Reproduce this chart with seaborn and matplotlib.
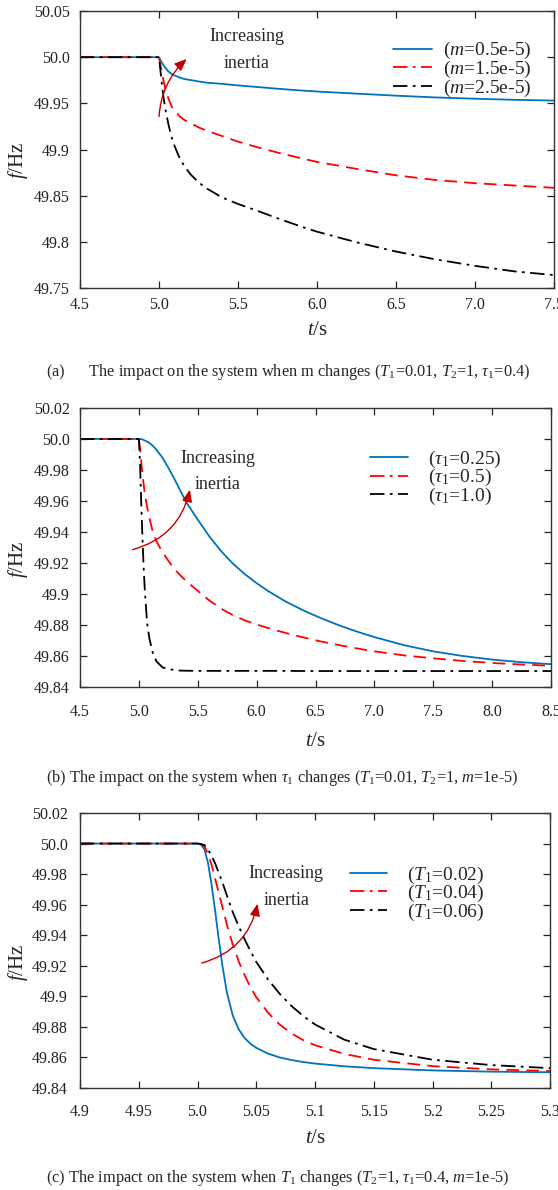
import matplotlib
matplotlib.use('Agg')
import matplotlib.pyplot as plt
from matplotlib.lines import Line2D
import seaborn as sns

# ──────────────── (a) m changes ────────────────
t_a = [4.5, 5.0, 5.01, 5.02, 5.03, 5.04, 5.06, 5.08, 5.1, 5.13, 5.16, 5.2, 5.25,
       5.3, 5.4, 5.5, 5.6, 5.75, 5.9, 6.0, 6.25, 6.5, 6.75, 7.0, 7.25, 7.5]
f_m05 = [50.0, 50.0, 49.9965, 49.9935, 49.9908, 49.9885, 49.9845, 49.9818, 49.9801,
         49.978, 49.9764, 49.9752, 49.9737, 49.9724, 49.9711, 49.9694, 49.968,
         49.9658, 49.9639, 49.9628, 49.9605, 49.9583, 49.9564, 49.955, 49.9538,
         49.953]
f_m15 = [50.0, 50.0, 49.9905, 49.982, 49.9735, 49.966, 49.955, 49.9464, 49.942,
         49.936, 49.932, 49.9285, 49.924, 49.9205, 49.9145, 49.9085, 49.9035,
         49.8967, 49.8905, 49.8866, 49.879, 49.872, 49.867, 49.8635, 49.861, 49.8585]
f_m25 = [50.0, 50.0, 49.984, 49.968, 49.955, 49.944, 49.927, 49.913, 49.903, 49.891,
         49.882, 49.873, 49.8645, 49.858, 49.848, 49.841, 49.835, 49.8255, 49.8165,
         49.811, 49.7995, 49.7895, 49.781, 49.774, 49.768, 49.764]

# ──────────────── (b) tau1 changes ────────────────
t_b = [4.5, 5.0, 5.01, 5.02, 5.03, 5.04, 5.05, 5.07, 5.09, 5.12, 5.15, 5.2, 5.25,
       5.3, 5.35, 5.4, 5.5, 5.6, 5.7, 5.8, 5.9, 6.0, 6.1, 6.25, 6.4, 6.55, 6.7,
       6.85, 7.0, 7.25, 7.5, 7.75, 8.0, 8.25, 8.5]
f_tau025 = [50.0, 50.0, 50.0, 49.9999, 49.9997, 49.9994, 49.999, 49.9983, 49.9975,
            49.9955, 49.993, 49.988, 49.9815, 49.9745, 49.967, 49.9595, 49.948,
            49.937, 49.9275, 49.9195, 49.9128, 49.907, 49.9018, 49.895, 49.8893,
            49.8843, 49.8798, 49.8758, 49.8722, 49.867, 49.863, 49.860, 49.8577,
            49.856, 49.8547]
f_tau05 = [50.0, 50.0, 49.994, 49.985, 49.978, 49.971, 49.965, 49.956, 49.949,
           49.9395, 49.934, 49.927, 49.9215, 49.9162, 49.9122, 49.9085, 49.902,
           49.8957, 49.8905, 49.8863, 49.883, 49.8803, 49.878, 49.8748, 49.8719,
           49.8693, 49.867, 49.8649, 49.863, 49.8604, 49.8585, 49.8568, 49.8555,
           49.8545, 49.8537]
f_tau10 = [50.0, 50.0, 49.984, 49.959, 49.937, 49.918, 49.903, 49.881, 49.871,
           49.8615, 49.8565, 49.8527, 49.8515, 49.851, 49.8506, 49.8505, 49.8504,
           49.8504, 49.8504, 49.8504, 49.8504, 49.8504, 49.8504, 49.8504, 49.8503,
           49.8503, 49.8503, 49.8503, 49.8503, 49.8503, 49.8503, 49.8503, 49.8503,
           49.8503, 49.8503]

# ──────────────── (c) T1 changes ────────────────
t_c = [4.9, 5.0, 5.003, 5.006, 5.009, 5.012, 5.015, 5.018, 5.021, 5.025, 5.03,
       5.035, 5.04, 5.045, 5.05, 5.06, 5.07, 5.08, 5.09, 5.1, 5.125, 5.15, 5.2,
       5.25, 5.3]
f_T002 = [50.0, 50.0, 49.9993, 49.996, 49.987, 49.973, 49.956, 49.938, 49.921,
          49.9025, 49.8875, 49.8785, 49.8728, 49.869, 49.8663, 49.8625, 49.860,
          49.8583, 49.857, 49.856, 49.8542, 49.853, 49.8515, 49.8507, 49.8503]
f_T004 = [50.0, 50.0, 49.9995, 49.998, 49.993, 49.986, 49.977, 49.968, 49.959,
          49.947, 49.934, 49.923, 49.914, 49.906, 49.8995, 49.8893, 49.8815,
          49.8757, 49.8713, 49.868, 49.8623, 49.8585, 49.8543, 49.8522, 49.8511]
f_T006 = [50.0, 50.0, 49.9997, 49.999, 49.996, 49.992, 49.987, 49.981, 49.975,
          49.966, 49.955, 49.946, 49.9375, 49.9297, 49.9225, 49.9111, 49.9016,
          49.8937, 49.8871, 49.8816, 49.8716, 49.8655, 49.8585, 49.855, 49.853]

xt_a = [4.5, 5.0, 5.5, 6.0, 6.5, 7.0, 7.5]
yt_a = [50.05, 50.0, 49.95, 49.9, 49.85, 49.8, 49.75]
yl_a = ['50.05', '50.0', '49.95', '49.9', '49.85', '49.8', '49.75']
xt_b = [4.5, 5.0, 5.5, 6.0, 6.5, 7.0, 7.5, 8.0, 8.5]
xt_c = [4.9, 4.95, 5.0, 5.05, 5.1, 5.15, 5.2, 5.25, 5.3]
xl_c = ['4.9', '4.95', '5.0', '5.05', '5.1', '5.15', '5.2', '5.25', '5.3']
yt_bc = [50.02, 50.0, 49.98, 49.96, 49.94, 49.92, 49.9, 49.88, 49.86, 49.84]
yl_bc = ['50.02', '50.0', '49.98', '49.96', '49.94', '49.92', '49.9', '49.88',
         '49.86', '49.84']

lab_a = [r'($m$=0.5e-5)', r'($m$=1.5e-5)', r'($m$=2.5e-5)']
lab_b = [r'($\tau_1$=0.25)', r'($\tau_1$=0.5)', r'($\tau_1$=1.0)']
lab_c = [r'($T_1$=0.02)', r'($T_1$=0.04)', r'($T_1$=0.06)']

BLUE, RED, BLACK = '#0072BD', '#FF0000', '#000000'
ARROW = '#C00000'
DASH = (0, (7, 4))
DASHDOT = (0, (8, 3, 1.5, 3))

sns.set_theme(style='ticks')
plt.rcParams['font.family'] = ['Liberation Serif', 'DejaVu Serif']
plt.rcParams['mathtext.fontset'] = 'custom'
plt.rcParams['mathtext.rm'] = 'Liberation Serif'
plt.rcParams['mathtext.it'] = 'Liberation Serif:italic'
plt.rcParams['mathtext.bf'] = 'Liberation Serif:bold'

fig = plt.figure(figsize=(5.58, 11.9), dpi=100)
W, H = 558, 1190


def add_ax(l, t, r, b):
    return fig.add_axes([l / W, 1 - b / H, (r - l) / W, (b - t) / H])


def draw(ax, t, series, labels, xlim, ylim, xt, xl, yt, yl, leg, txt, arr, rad,
         pads, lab_pos):
    styles = [('-', BLUE), (DASH, RED), (DASHDOT, BLACK)]
    for f, (ls, c) in zip(series, styles):
        sns.lineplot(x=t, y=f, ax=ax, color=c, linestyle=ls, lw=1.3,
                     estimator=None, sort=False)
    ax.set_xlim(xlim)
    ax.set_ylim(ylim)
    ax.set_xticks(xt)
    ax.set_xticklabels(xl)
    ax.set_yticks(yt)
    ax.set_yticklabels(yl)
    ax.tick_params(direction='in', length=5, width=0.9, top=True, right=True,
                   labelsize=11.5, colors='#222222')
    ax.tick_params(axis='x', pad=pads[0])
    ax.tick_params(axis='y', pad=pads[1])
    for s in ax.spines.values():
        s.set_linewidth(1.0)
        s.set_color('#333333')
    ax.set_xlabel(r'$t$/s', fontsize=15)
    ax.set_ylabel(r'$f$/Hz', fontsize=15)
    ax.xaxis.set_label_coords(0.5, lab_pos[0])
    ax.xaxis.label.set_va('center')
    ax.yaxis.set_label_coords(-0.131, lab_pos[1])
    ax.yaxis.label.set_va('center')

    handles = [Line2D([], [], color=BLUE, lw=1.3),
               Line2D([], [], color=RED, lw=1.3, linestyle=DASHDOT),
               Line2D([], [], color=BLACK, lw=1.3, linestyle=DASHDOT)]
    ax.legend(handles, labels, loc='upper left', bbox_to_anchor=leg[0],
              frameon=False, fontsize=14, borderpad=0, borderaxespad=0,
              handlelength=leg[1], handletextpad=leg[2], labelspacing=-0.13)

    (x1, y1), (x2, y2) = txt
    ax.text(x1, y1, 'Increasing', ha='center', va='center', fontsize=13)
    ax.text(x2, y2, 'inertia', ha='center', va='center', fontsize=13)
    ax.annotate('', xy=arr[1], xytext=arr[0],
                arrowprops=dict(arrowstyle='-|>,head_length=0.6,head_width=0.25',
                                color=ARROW, lw=1.0,
                                connectionstyle=f'arc3,rad={rad}',
                                shrinkA=0, shrinkB=0))


ax_a = add_ax(80, 11, 554, 288)
draw(ax_a, t_a, [f_m05, f_m15, f_m25], lab_a, (4.5, 7.5), (49.75, 50.05),
     xt_a, [f'{v:.1f}' for v in xt_a], yt_a, yl_a,
     ((0.660, 0.894), 2.0, 0.57),
     ((5.556, 50.022), (5.556, 49.993)),
     ((5.0, 49.9356), (5.175, 49.998)), -0.2, (6.5, 7.6), (-0.152, 0.46))

ax_b = add_ax(80, 408, 551, 687)
draw(ax_b, t_b, [f_tau025, f_tau05, f_tau10], lab_b, (4.5, 8.5), (49.84, 50.02),
     xt_b, [f'{v:.1f}' for v in xt_b], yt_bc, yl_bc,
     ((0.616, 0.854), 1.93, 1.03),
     ((5.671, 49.9875), (5.671, 49.9705)),
     ((4.946, 49.9286), (5.433, 49.9673)), 0.3, (12, 7.6), (-0.194, 0.459))

ax_c = add_ax(80, 813, 550, 1088)
draw(ax_c, t_c, [f_T002, f_T004, f_T006], lab_c, (4.9, 5.3), (49.84, 50.02),
     xt_c, xl_c, yt_bc, yl_bc,
     ((0.575, 0.813), 1.9, 1.0),
     ((5.0755, 49.9807), (5.0755, 49.963)),
     ((5.0037, 49.9218), (5.0511, 49.9606)), 0.3, (11.5, 9), (-0.182, 0.458))

cap_kw = dict(ha='left', va='center', fontsize=11.8)
fig.text(46 / W, 1 - 372 / H,
         r'(a)      The impact on the system when m changes ($T_1$=0.01, $T_2$=1, $\tau_1$=0.4)',
         **cap_kw)
fig.text(46 / W, 1 - 778 / H,
         r'(b) The impact on the system when $\tau_1$ changes ($T_1$=0.01, $T_2$=1, $m$=1e-5)',
         **cap_kw)
fig.text(46 / W, 1 - 1178 / H,
         r'(c) The impact on the system when $T_1$ changes ($T_2$=1, $\tau_1$=0.4, $m$=1e-5)',
         **cap_kw)

fig.savefig('out.png', dpi=100)
